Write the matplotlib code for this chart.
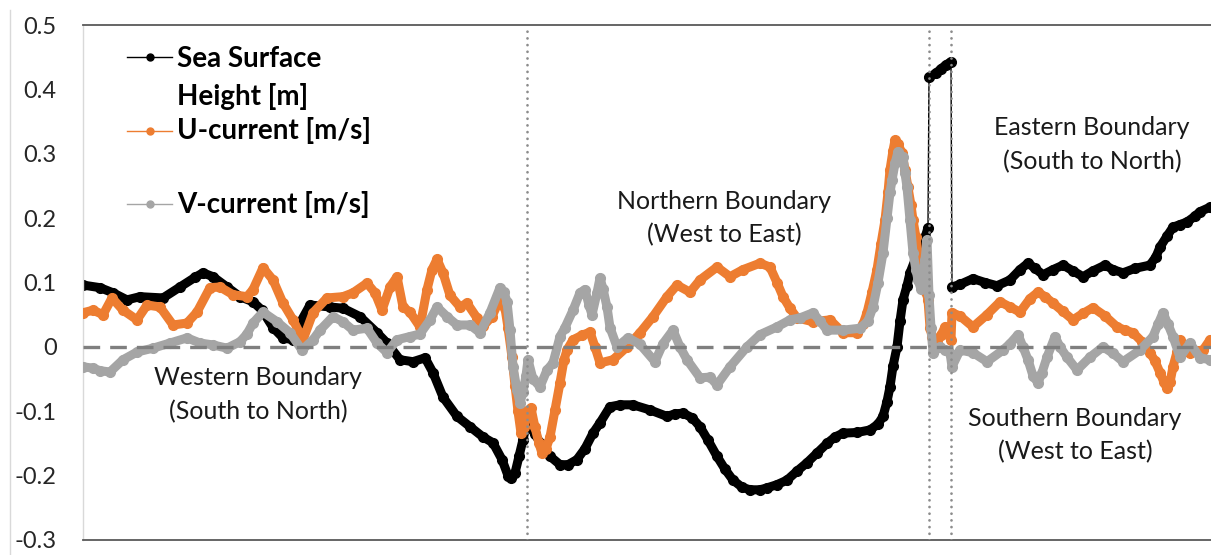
import numpy as np
import matplotlib
matplotlib.use("Agg")
import matplotlib.pyplot as plt
from matplotlib.lines import Line2D

# Track position along the open boundaries (point index) and values
ssh_idx = [0, 17, 30, 44, 57, 80, 97, 112, 120, 130, 144, 157, 170, 179, 190, 200, 210, 217, 227,
           247, 260, 277, 294, 304, 317, 330, 342, 350, 360, 374, 387, 400, 410, 419, 425, 428,
           432, 436, 440, 443, 447, 452, 457, 467, 477, 485, 494, 502, 510, 517, 527, 537, 550,
           567, 584, 592, 600, 609, 617, 625, 634, 642, 650, 659, 667, 677, 684, 694, 704, 714,
           724, 734, 744, 752, 760, 774, 787, 795, 800, 804, 807, 810, 814, 817, 820, 824, 827,
           832, 837, 842, 845, 846, 853, 858, 863, 868, 869, 877, 890, 902, 914, 927, 937, 945,
           952, 960, 970, 980, 990, 1000, 1010, 1022, 1030, 1040, 1052, 1067, 1073, 1077, 1084,
           1090, 1097, 1104, 1112, 1117, 1127]
ssh = [0.096, 0.092, 0.084, 0.073, 0.078, 0.076, 0.093, 0.108, 0.115, 0.109, 0.093, 0.078, 0.070,
       0.057, 0.030, 0.014, 0.011, 0.037, 0.065, 0.062, 0.060, 0.047, 0.022, 0.006, -0.020,
       -0.023, -0.017, -0.040, -0.078, -0.108, -0.124, -0.140, -0.149, -0.175, -0.200, -0.204,
       -0.196, -0.170, -0.144, -0.124, -0.125, -0.135, -0.149, -0.170, -0.183, -0.183, -0.175,
       -0.158, -0.134, -0.118, -0.093, -0.090, -0.090, -0.098, -0.108, -0.104, -0.103, -0.110,
       -0.124, -0.145, -0.170, -0.190, -0.207, -0.218, -0.222, -0.222, -0.219, -0.214, -0.207,
       -0.193, -0.180, -0.165, -0.150, -0.140, -0.134, -0.133, -0.129, -0.120, -0.108, -0.085,
       -0.062, -0.030, 0.000, 0.040, 0.073, 0.095, 0.115, 0.135, 0.151, 0.170, 0.185, 0.419,
       0.425, 0.432, 0.438, 0.443, 0.093, 0.097, 0.106, 0.100, 0.095, 0.104, 0.120, 0.130,
       0.122, 0.112, 0.120, 0.127, 0.118, 0.109, 0.118, 0.127, 0.120, 0.115, 0.122, 0.127,
       0.140, 0.155, 0.172, 0.186, 0.190, 0.194, 0.203, 0.210, 0.217]

u_idx = [0, 10, 20, 29, 40, 54, 64, 77, 90, 104, 114, 127, 137, 150, 164, 170, 180, 190, 200, 210,
         220, 230, 244, 260, 270, 284, 292, 299, 307, 314, 320, 327, 337, 344, 349, 354, 360, 367,
         377, 384, 394, 400, 409, 417, 422, 425, 429, 432, 435, 438, 441, 444, 448, 452, 456, 459,
         463, 467, 472, 477, 481, 484, 490, 499, 507, 512, 517, 530, 544, 557, 570, 584, 594, 607,
         617, 634, 647, 660, 677, 687, 694, 700, 707, 714, 730, 747, 760, 774, 780, 784, 789, 794,
         798, 802, 805, 807, 810, 812, 815, 819, 822, 825, 828, 830, 833, 835, 838, 840, 843, 845,
         847, 849, 854, 858, 862, 865, 868, 869, 877, 890, 904, 917, 927, 937, 947, 955, 962, 970,
         980, 990, 1000, 1010, 1022, 1034, 1042, 1050, 1059, 1067, 1072, 1077, 1081, 1084, 1087,
         1090, 1094, 1097, 1102, 1107, 1114, 1120, 1127]
u_cur = [0.053, 0.057, 0.050, 0.076, 0.057, 0.042, 0.065, 0.062, 0.034, 0.037, 0.054, 0.092,
         0.093, 0.081, 0.078, 0.089, 0.123, 0.104, 0.068, 0.042, 0.011, 0.053, 0.076, 0.078,
         0.084, 0.099, 0.084, 0.057, 0.093, 0.109, 0.062, 0.054, 0.031, 0.089, 0.120, 0.136,
         0.115, 0.080, 0.062, 0.068, 0.045, 0.032, 0.047, 0.075, 0.060, 0.030, -0.016, -0.060,
         -0.100, -0.134, -0.125, -0.100, -0.095, -0.125, -0.150, -0.165, -0.158, -0.140, -0.098,
         -0.056, -0.020, -0.005, 0.011, 0.018, 0.023, 0.000, -0.025, -0.020, 0.000, 0.022, 0.047,
         0.078, 0.096, 0.085, 0.104, 0.124, 0.109, 0.120, 0.130, 0.124, 0.100, 0.078, 0.060,
         0.045, 0.039, 0.042, 0.022, 0.022, 0.035, 0.053, 0.085, 0.120, 0.160, 0.197, 0.240,
         0.275, 0.305, 0.321, 0.315, 0.301, 0.275, 0.248, 0.220, 0.197, 0.170, 0.146, 0.120,
         0.104, 0.085, 0.073, 0.030, 0.016, 0.006, 0.018, 0.031, 0.020, 0.011, 0.053, 0.048,
         0.031, 0.050, 0.070, 0.062, 0.054, 0.075, 0.085, 0.078, 0.068, 0.055, 0.042, 0.052,
         0.061, 0.048, 0.031, 0.026, 0.022, 0.008, -0.009, -0.022, -0.040, -0.055, -0.064,
         -0.055, -0.031, -0.008, 0.011, 0.000, -0.009, -0.006, -0.005, 0.011]

v_idx = [0, 10, 17, 27, 40, 54, 70, 87, 104, 117, 130, 144, 157, 164, 170, 180, 194, 207, 219, 230,
         237, 250, 260, 270, 284, 294, 304, 314, 327, 337, 347, 354, 364, 374, 387, 397, 407, 417,
         421, 424, 427, 430, 434, 437, 440, 443, 445, 450, 457, 464, 470, 477, 482, 490, 497, 502,
         506, 509, 514, 517, 520, 524, 527, 534, 545, 557, 572, 580, 590, 597, 604, 617, 627, 634,
         647, 664, 677, 694, 707, 717, 730, 737, 744, 760, 777, 785, 790, 795, 800, 804, 807, 809,
         812, 815, 820, 822, 824, 827, 830, 833, 835, 838, 840, 842, 844, 846, 848, 850, 857, 862,
         867, 869, 877, 890, 904, 920, 927, 935, 940, 945, 950, 955, 959, 964, 972, 977, 984, 994,
         1007, 1020, 1030, 1040, 1057, 1070, 1075, 1080, 1085, 1090, 1097, 1107, 1117, 1127]
v_cur = [-0.031, -0.033, -0.037, -0.039, -0.020, -0.008, -0.002, 0.006, 0.014, 0.006, 0.003,
         -0.002, 0.008, 0.020, 0.037, 0.054, 0.039, 0.022, -0.005, 0.011, 0.026, 0.047, 0.039,
         0.026, 0.029, 0.006, -0.009, 0.011, 0.016, 0.020, 0.042, 0.062, 0.047, 0.034, 0.034,
         0.022, 0.053, 0.092, 0.085, 0.070, 0.026, -0.031, -0.067, -0.087, -0.070, -0.045,
         -0.020, -0.050, -0.062, -0.036, -0.025, 0.016, 0.030, 0.057, 0.084, 0.089, 0.065, 0.050,
         0.084, 0.107, 0.090, 0.062, 0.030, 0.000, 0.014, 0.004, -0.023, 0.005, 0.026, 0.000,
         -0.020, -0.048, -0.047, -0.059, -0.031, 0.000, 0.019, 0.031, 0.042, 0.045, 0.053, 0.040,
         0.026, 0.026, 0.029, 0.040, 0.062, 0.100, 0.146, 0.200, 0.240, 0.259, 0.285, 0.303,
         0.295, 0.270, 0.248, 0.197, 0.146, 0.120, 0.104, 0.090, 0.110, 0.135, 0.166, 0.080,
         0.030, -0.009, 0.000, -0.005, -0.009, -0.031, -0.005, -0.009, -0.023, -0.005, 0.005,
         0.019, 0.000, -0.020, -0.045, -0.056, -0.040, -0.016, 0.016, 0.000, -0.016, -0.036,
         -0.016, 0.000, -0.010, -0.023, -0.005, 0.016, 0.035, 0.053, 0.035, 0.016, -0.016, 0.006,
         -0.017, -0.020]

# where one boundary ends and the next starts
boundary_idx = [444, 846, 868]

boundary_names = ["Western Boundary\n(South to North)", "Northern Boundary\n(West to East)",
                  "Eastern Boundary\n(South to North)", "Southern Boundary\n(West to East)"]
label_pos = [(175, -0.074), (641, 0.200), (1009, 0.314), (992, -0.137)]

series = [("Sea Surface\nHeight [m]", ssh_idx, ssh, "#000000", "#000000"),
          ("U-current [m/s]", u_idx, u_cur, "#ED7D31", "#ED7D31"),
          ("V-current [m/s]", v_idx, v_cur, "#A5A5A5", "#A5A5A5")]

plt.rcParams['font.family'] = ['Lato', 'DejaVu Sans']

fig = plt.figure(figsize=(12.11, 5.55), dpi=100)
ax = fig.add_axes([83 / 1211, 15 / 555, 1128 / 1211, 515 / 555])

for i, (name, xs, ys, col, lcol) in enumerate(series):
    xs = np.asarray(xs, float)
    ys = np.asarray(ys, float)
    # thin connector across every point, thick band inside each continuous run
    ax.plot(xs, ys, color=lcol, lw=1.0, zorder=2 + i)
    breaks = np.where(np.abs(np.diff(ys)) > 0.2)[0] + 1
    for seg in np.split(np.arange(len(xs)), breaks):
        ax.plot(xs[seg], ys[seg], color=col, lw=6.5, solid_capstyle='round',
                solid_joinstyle='round', zorder=2 + i)
    ax.plot(xs, ys, ls='none', marker='o', ms=7, color=col, mec=col, zorder=2 + i)

ax.axhline(0, color='#7F7F7F', lw=2.4, ls=(0, (5, 3)), zorder=6)
for b in boundary_idx:
    ax.axvline(b, color='#8C8C8C', lw=2.0, ls=(0, (0.01, 2.4)), dash_capstyle='round', zorder=6)

for txt, (px, py) in zip(boundary_names, label_pos):
    ax.text(px, py, txt, ha='center', va='center', fontsize=18, color='#1a1a1a',
            linespacing=1.55, zorder=7)

ax.set_xlim(0, 1128)
ax.set_ylim(-0.3, 0.5)
ticks = np.round(np.arange(-0.3, 0.51, 0.1), 1)
ax.set_yticks(ticks)
ax.set_yticklabels([f"{t:g}" for t in ticks])
ax.set_xticks([])
ax.tick_params(axis='y', length=0, pad=19, labelsize=17, labelcolor='#262626')

for side in ['top', 'bottom']:
    ax.spines[side].set_color('#595959')
    ax.spines[side].set_linewidth(1.3)
ax.spines['left'].set_color('#D9D9D9')
ax.spines['left'].set_linewidth(1.0)
ax.spines['right'].set_visible(False)

# legend drawn in figure coordinates
legend_rows = [(57, 0), (131, 1), (204, 2)]
for ypix, k in legend_rows:
    name, _, _, col, lcol = series[k]
    yf = 1 - ypix / 555
    fig.add_artist(Line2D([127 / 1211, 172 / 1211], [yf, yf], color=lcol, lw=1.0,
                          transform=fig.transFigure))
    fig.add_artist(Line2D([150 / 1211], [yf], color=col, marker='o', ms=5,
                          transform=fig.transFigure))
    if k == 0:
        fig.text(177 / 1211, 1 - 46 / 555, name, ha='left', va='top', fontsize=20,
                 fontweight='bold', color='#000000', linespacing=1.5)
    else:
        fig.text(177 / 1211, yf, name, ha='left', va='center', fontsize=20,
                 fontweight='bold', color='#000000')

fig.add_artist(Line2D([10 / 1211, 10 / 1211], [0, 1 - 10 / 555], color='#D9D9D9', lw=1.0,
                      transform=fig.transFigure))

fig.savefig("out.png", dpi=100, facecolor='white')
